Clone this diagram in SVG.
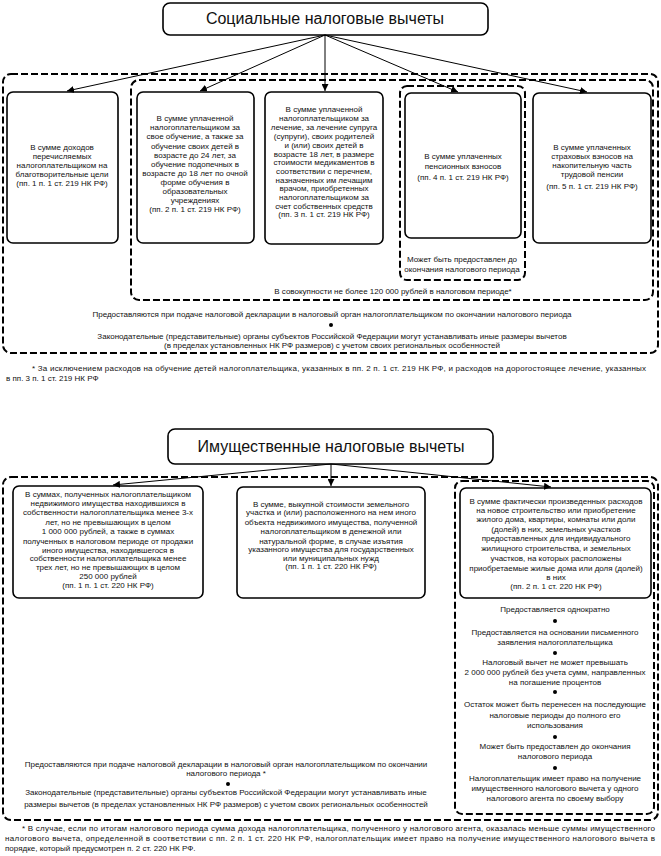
<svg xmlns="http://www.w3.org/2000/svg" width="661" height="856" viewBox="0 0 661 856">
<defs>
<marker id="ah" viewBox="0 0 10 10" refX="10" refY="5" markerWidth="7" markerHeight="7" orient="auto" markerUnits="userSpaceOnUse"><path d="M0,0 L10,5 L0,10 z" fill="#000"/></marker>
<style>
text{font-family:"Liberation Sans",Arial,sans-serif;fill:#111;}
.t{font-size:8px;text-anchor:middle;}
.f{font-size:8px;}
.title{font-size:16px;text-anchor:middle;}
.box{fill:#fff;stroke:#000;stroke-width:1.6;}
.dash{fill:none;stroke:#000;stroke-width:2;stroke-dasharray:7,3;}
.con{stroke:#000;stroke-width:1;fill:none;marker-end:url(#ah);}
.dot{fill:#000;}
</style>
</defs>
<rect width="661" height="856" fill="#fff"/>

<!-- Section 1 -->
<g id="social-title">
<rect class="box" x="163" y="3" width="325" height="32" rx="7"/>
<text class="title" x="325" y="24">Социальные налоговые вычеты</text>
</g>
<g id="social-outer">
<rect class="dash" x="3" y="74" width="655" height="279" rx="8"/>
<text class="t" x="332" y="317">Предоставляются при подаче налоговой декларации в налоговый орган налогоплательщиком по окончании налогового периода</text>
<circle class="dot" cx="331" cy="325" r="2"/>
<text class="t" x="332" y="339">Законодательные (представительные) органы субъектов Российской Федерации могут устанавливать иные размеры вычетов</text>
<text class="t" x="332" y="348">(в пределах установленных НК РФ размеров) с учетом своих региональных особенностей</text>
</g>
<g id="social-inner">
<rect class="dash" x="131" y="80" width="522" height="220" rx="8"/>
<text class="t" x="393" y="294">В совокупности не более 120 000 рублей в налоговом периоде*</text>
</g>
<g id="box1">
<rect class="box" x="7" y="92" width="111" height="151" rx="6"/>
<text class="t" x="62" y="150">В сумме доходов</text>
<text class="t" x="62" y="159">перечисляемых</text>
<text class="t" x="62" y="168">налогоплательщиком на</text>
<text class="t" x="62" y="177">благотворительные цели</text>
<text class="t" x="62" y="186">(пп. 1 п. 1 ст. 219 НК РФ)</text>
</g>
<g id="box2">
<rect class="box" x="137" y="92" width="117" height="151" rx="6"/>
<text class="t" x="195" y="121">В сумме уплаченной</text>
<text class="t" x="195" y="130">налогоплательщиком за</text>
<text class="t" x="195" y="139">свое обучение, а также за</text>
<text class="t" x="195" y="149">обучение своих детей в</text>
<text class="t" x="195" y="158">возрасте до 24 лет, за</text>
<text class="t" x="195" y="167">обучение подопечных в</text>
<text class="t" x="195" y="176">возрасте до 18 лет по очной</text>
<text class="t" x="195" y="185">форме обучения в</text>
<text class="t" x="195" y="194">образовательных</text>
<text class="t" x="195" y="203">учреждениях</text>
<text class="t" x="195" y="212">(пп. 2 п. 1 ст. 219 НК РФ)</text>
</g>
<g id="box3">
<rect class="box" x="265" y="92" width="118" height="152" rx="6"/>
<text class="t" x="324" y="112">В сумме уплаченной</text>
<text class="t" x="324" y="121">налогоплательщиком за</text>
<text class="t" x="324" y="130">лечение, за лечение супруга</text>
<text class="t" x="324" y="139">(супруги), своих родителей</text>
<text class="t" x="324" y="148">и (или) своих детей в</text>
<text class="t" x="324" y="157">возрасте 18 лет, в размере</text>
<text class="t" x="324" y="165">стоимости медикаментов в</text>
<text class="t" x="324" y="174">соответствии с перечнем,</text>
<text class="t" x="324" y="183">назначенных им лечащим</text>
<text class="t" x="324" y="191">врачом, приобретенных</text>
<text class="t" x="324" y="200">налогоплательщиком за</text>
<text class="t" x="324" y="209">счет собственных средств</text>
<text class="t" x="324" y="217">(пп. 3 п. 1 ст. 219 НК РФ)</text>
</g>
<g id="box4">
<rect class="dash" x="400" y="86" width="125" height="194" rx="7"/>
<rect class="box" x="405" y="93" width="116" height="145" rx="6"/>
<text class="t" x="463" y="159">В сумме уплаченных</text>
<text class="t" x="463" y="169">пенсионных взносов</text>
<text class="t" x="463" y="180">(пп. 4 п. 1 ст. 219 НК РФ)</text>
<text class="t" x="462" y="262">Может быть предоставлен до</text>
<text class="t" x="462" y="272">окончания налогового периода</text>
</g>
<g id="box5">
<rect class="box" x="533" y="93" width="118" height="150" rx="6"/>
<text class="t" x="592" y="150">В сумме уплаченных</text>
<text class="t" x="592" y="159">страховых взносов на</text>
<text class="t" x="592" y="168">накопительную часть</text>
<text class="t" x="592" y="177">трудовой пенсии</text>
<text class="t" x="592" y="189">(пп. 5 п. 1 ст. 219 НК РФ)</text>
</g>
<g id="footnote1">
<text class="f" x="32" y="371" textLength="614" lengthAdjust="spacing">* За исключением расходов на обучение детей налогоплательщика, указанных в пп. 2 п. 1 ст. 219 НК РФ, и расходов на дорогостоящее лечение, указанных</text>
<text class="f" x="6" y="381">в пп. 3 п. 1 ст. 219 НК РФ</text>
</g>

<!-- Section 2 -->
<g id="property-title">
<rect class="box" x="168" y="429" width="325" height="35" rx="7"/>
<text class="title" x="331" y="452">Имущественные налоговые вычеты</text>
</g>
<g id="property-outer">
<rect class="dash" x="3" y="477" width="655" height="343" rx="8"/>
<text class="t" x="226" y="767">Предоставляются при подаче налоговой декларации в налоговый орган налогоплательщиком по окончании</text>
<text class="t" x="226" y="776">налогового периода *</text>
<circle class="dot" cx="228" cy="784" r="2"/>
<text class="t" x="226" y="795">Законодательные (представительные) органы субъектов Российской Федерации могут устанавливать иные</text>
<text class="t" x="226" y="807">размеры вычетов (в пределах установленных НК РФ размеров) с учетом своих региональных особенностей</text>
</g>
<g id="boxA">
<rect class="box" x="13" y="486" width="190" height="112" rx="6"/>
<text class="t" x="108" y="497">В суммах, полученных налогоплательщиком</text>
<text class="t" x="108" y="506">недвижимого имущества находившихся в</text>
<text class="t" x="108" y="515">собственности налогоплательщика менее 3-х</text>
<text class="t" x="108" y="525">лет, но не превышающих в целом</text>
<text class="t" x="108" y="534">1 000 000 рублей, а также в суммах</text>
<text class="t" x="108" y="544">полученных в налоговом периоде от продажи</text>
<text class="t" x="108" y="553">иного имущества, находившегося в</text>
<text class="t" x="108" y="561">собственности налогоплательщика менее</text>
<text class="t" x="108" y="570">трех лет, но не превышающих в целом</text>
<text class="t" x="108" y="579">250 000 рублей</text>
<text class="t" x="108" y="588">(пп. 1 п. 1 ст. 220 НК РФ)</text>
</g>
<g id="boxB">
<rect class="box" x="237" y="487" width="188" height="111" rx="6"/>
<text class="t" x="331" y="507">В сумме, выкупной стоимости земельного</text>
<text class="t" x="331" y="515">участка и (или) расположенного на нем иного</text>
<text class="t" x="331" y="525">объекта недвижимого имущества, полученной</text>
<text class="t" x="331" y="534">налогоплательщиком в денежной или</text>
<text class="t" x="331" y="544">натуральной форме, в случае изъятия</text>
<text class="t" x="331" y="552">указанного имущества для государственных</text>
<text class="t" x="331" y="561">или муниципальных нужд</text>
<text class="t" x="331" y="569">(пп. 1 п. 1 ст. 220 НК РФ)</text>
</g>
<g id="boxC">
<rect class="dash" x="455" y="481" width="199" height="333" rx="7"/>
<rect class="box" x="460" y="488" width="191" height="110" rx="6"/>
<text class="t" x="556" y="504">В сумме фактически произведенных расходов</text>
<text class="t" x="556" y="513">на новое строительство или приобретение</text>
<text class="t" x="556" y="522">жилого дома, квартиры, комнаты или доли</text>
<text class="t" x="556" y="532">(долей) в них, земельных участков</text>
<text class="t" x="556" y="541">предоставленных для индивидуального</text>
<text class="t" x="556" y="551">жилищного строительства, и земельных</text>
<text class="t" x="556" y="561">участков, на которых расположены</text>
<text class="t" x="556" y="571">приобретаемые жилые дома или доля (долей)</text>
<text class="t" x="556" y="580">в них</text>
<text class="t" x="556" y="589">(пп. 2 п. 1 ст. 220 НК РФ)</text>
<text class="t" x="555" y="612">Предоставляется однократно</text>
<circle class="dot" cx="555" cy="621" r="2"/>
<text class="t" x="555" y="635">Предоставляется на основании письменного</text>
<text class="t" x="555" y="645">заявления налогоплательщика</text>
<circle class="dot" cx="555" cy="653" r="2"/>
<text class="t" x="555" y="665">Налоговый вычет не может превышать</text>
<text class="t" x="555" y="675">2 000 000 рублей без учета сумм, направленных</text>
<text class="t" x="555" y="685">на погашение процентов</text>
<circle class="dot" cx="555" cy="692" r="2"/>
<text class="t" x="555" y="707">Остаток может быть перенесен на последующие</text>
<text class="t" x="555" y="718">налоговые периоды до полного его</text>
<text class="t" x="555" y="728">использования</text>
<circle class="dot" cx="555" cy="737" r="2"/>
<text class="t" x="555" y="749">Может быть предоставлен до окончания</text>
<text class="t" x="555" y="759">налогового периода</text>
<circle class="dot" cx="555" cy="768" r="2"/>
<text class="t" x="555" y="781">Налогоплательщик имеет право на получение</text>
<text class="t" x="555" y="791">имущественного налогового вычета у одного</text>
<text class="t" x="555" y="801">налогового агента по своему выбору</text>
</g>
<g id="footnote2">
<text class="f" x="22" y="831" textLength="633" lengthAdjust="spacing">* В случае, если по итогам налогового периода сумма дохода налогоплательщика, полученного у налогового агента, оказалась меньше суммы имущественного</text>
<text class="f" x="5" y="841" textLength="650" lengthAdjust="spacing">налогового вычета, определенной в соответствии с пп. 2 п. 1 ст. 220 НК РФ, налогоплательщик имеет право на получение имущественного налогового вычета в</text>
<text class="f" x="5" y="851">порядке, который предусмотрен п. 2 ст. 220 НК РФ.</text>
</g>

<g id="connectors">
<line class="con" x1="325" y1="35" x2="67" y2="91"/>
<line class="con" x1="325" y1="35" x2="200" y2="91"/>
<line class="con" x1="325" y1="35" x2="325" y2="91"/>
<line class="con" x1="325" y1="35" x2="458" y2="92"/>
<line class="con" x1="325" y1="35" x2="587" y2="92"/>
<line class="con" x1="331" y1="464" x2="113" y2="485"/>
<line class="con" x1="331" y1="464" x2="331" y2="486"/>
<line class="con" x1="331" y1="464" x2="551" y2="487"/>
</g>
</svg>
